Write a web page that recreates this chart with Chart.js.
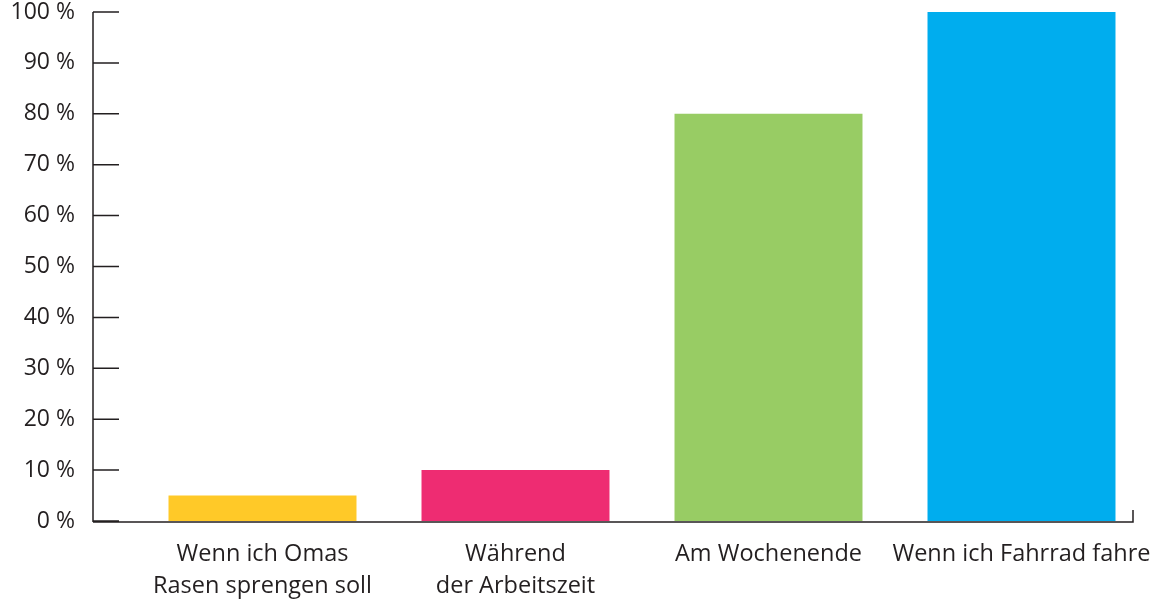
<!DOCTYPE html>
<html>
<head>
<meta charset="utf-8">
<script src="https://cdn.jsdelivr.net/npm/chart.js"></script>
<style>
  html, body { margin: 0; padding: 0; background: #fff; }
  #wrap { width: 1158px; height: 602px; }
</style>
</head>
<body>
<div id="wrap"><canvas id="chart" width="1158" height="602"></canvas></div>
<script>
const categories = [
  ['Wenn ich Omas', 'Rasen sprengen soll'],
  ['Während', 'der Arbeitszeit'],
  'Am Wochenende',
  'Wenn ich Fahrrad fahre'
];
const values = [5, 10, 80, 100];
const barColors = ['#ffc928', '#ee2c72', '#98cc64', '#00adee'];
const yTicks = [0, 10, 20, 30, 40, 50, 60, 70, 80, 90, 100];

const ink = '#231f20';

// axis line and inward ticks sit left of the plot area, like the original
const axisLines = {
  id: 'axisLines',
  afterDatasetsDraw(chart) {
    const { ctx, scales } = chart;
    const ax = 93;
    const y = scales.y;
    ctx.save();
    ctx.strokeStyle = ink;
    ctx.lineWidth = 1.5;
    ctx.beginPath();
    ctx.moveTo(ax, y.getPixelForValue(100));
    ctx.lineTo(ax, y.getPixelForValue(0) + 1);
    yTicks.forEach(v => {
      const py = y.getPixelForValue(v);
      ctx.moveTo(ax, py);
      ctx.lineTo(ax + 26, py);
    });
    const base = y.getPixelForValue(0) + 1;
    ctx.moveTo(ax, base);
    ctx.lineTo(1133, base);
    ctx.lineTo(1133, base - 12);
    ctx.stroke();
    ctx.restore();
  }
};

new Chart(document.getElementById('chart'), {
  type: 'bar',
  data: {
    labels: categories,
    datasets: [{
      data: values,
      backgroundColor: barColors,
      barPercentage: 0.743,
      categoryPercentage: 1
    }]
  },
  options: {
    responsive: false,
    animation: false,
    layout: { padding: { top: 12, right: 10, bottom: 0, left: 0 } },
    plugins: { legend: { display: false }, tooltip: { enabled: false } },
    scales: {
      x: {
        afterFit(scale) {
          scale.height = 81;
          scale.paddingLeft = 0;
          scale.paddingRight = 0;
          scale.paddingTop = 0;
          scale.paddingBottom = 0;
        },
        grid: { display: false, drawTicks: false },
        border: { display: false },
        ticks: {
          color: ink,
          font: { family: 'Open Sans', size: 23.5, lineHeight: 1.36 },
          padding: 17,
          maxRotation: 0,
          autoSkip: false
        }
      },
      y: {
        min: 0,
        max: 100,
        afterFit(scale) {
          scale.width = 136;
          scale.paddingTop = 0;
          scale.paddingBottom = 0;
        },
        afterBuildTicks(scale) { scale.ticks = yTicks.map(v => ({ value: v })); },
        grid: { display: false, drawTicks: false },
        border: { display: false },
        ticks: {
          color: ink,
          font: { family: 'Open Sans', size: 23 },
          padding: 61,
          callback: v => v + ' %'
        }
      }
    }
  },
  plugins: [axisLines]
});
</script>
</body>
</html>
